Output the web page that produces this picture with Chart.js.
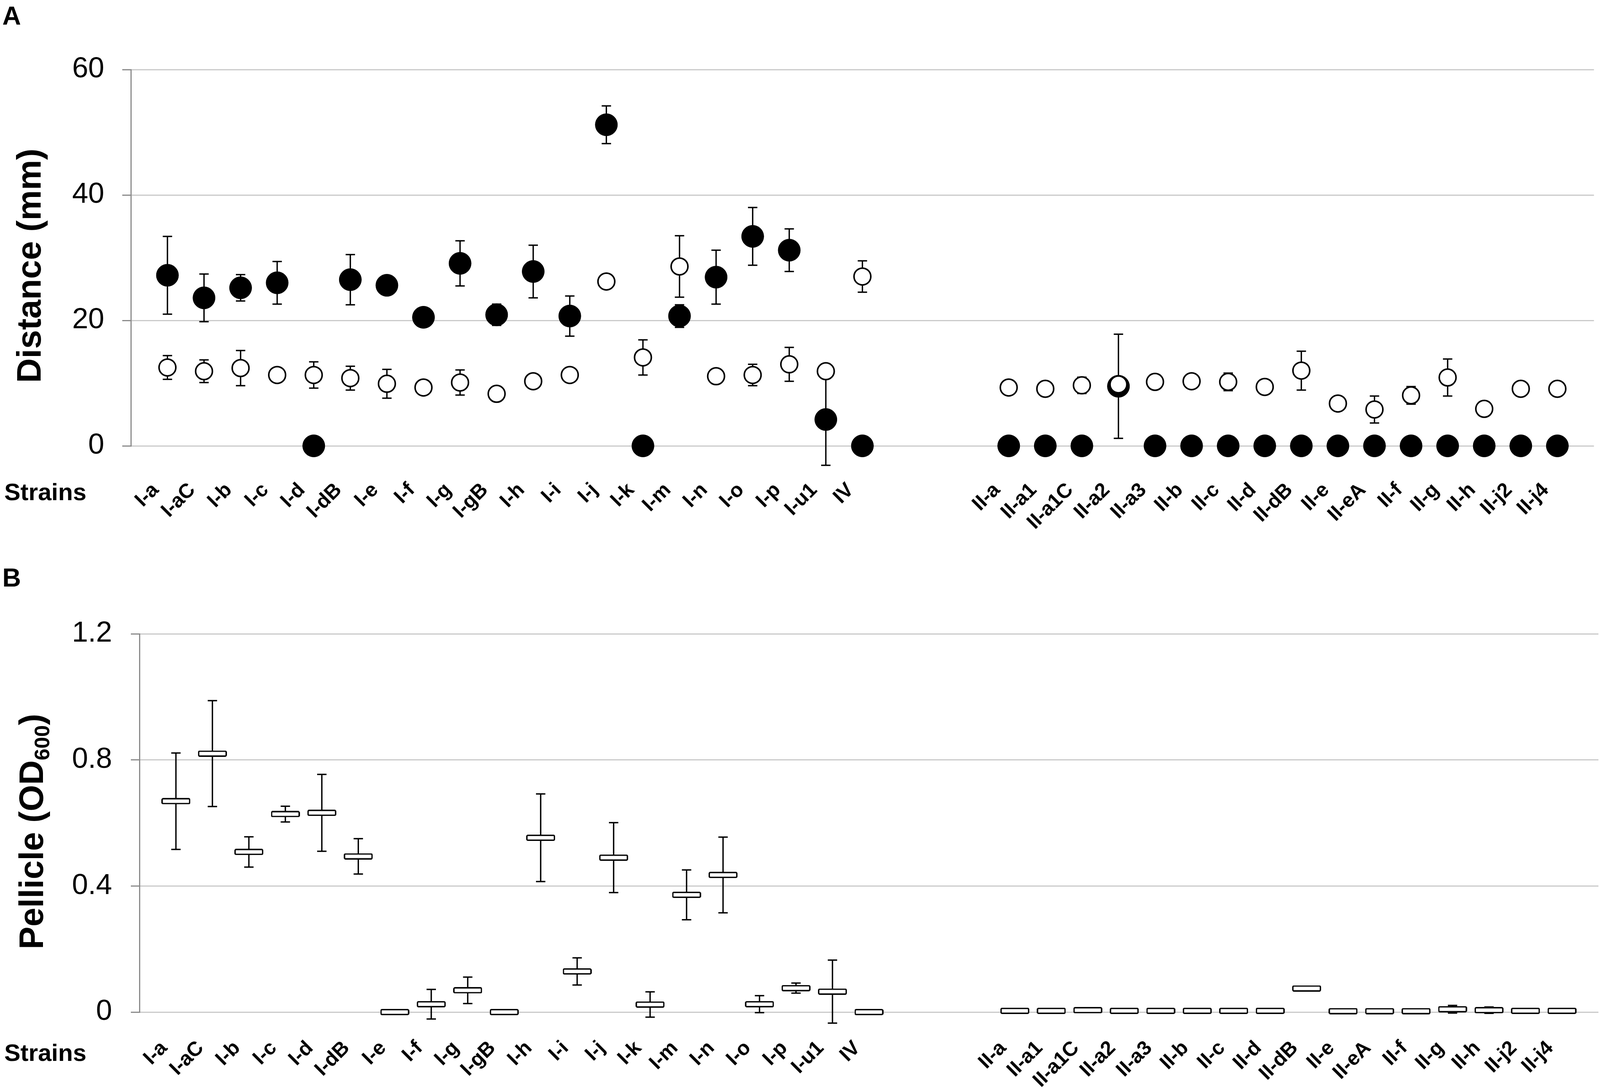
<!DOCTYPE html>
<html><head><meta charset="utf-8">
<script src="https://cdn.jsdelivr.net/npm/chart.js@4.4.1/dist/chart.umd.min.js"></script>
<style>
html,body{margin:0;padding:0;background:#fff;width:4110px;height:2792px;overflow:hidden}
canvas{position:absolute;left:0}
#ca{top:0}
#cb{top:1400px}
</style></head><body>
<canvas id="ca" width="4110" height="1400"></canvas>
<canvas id="cb" width="4110" height="1392"></canvas>
<script>
// ---------- data ----------
const strainsI = ['I-a','I-aC','I-b','I-c','I-d','I-dB','I-e','I-f','I-g','I-gB','I-h','I-i','I-j','I-k','I-m','I-n','I-o','I-p','I-u1','IV'];
const strainsII = ['II-a','II-a1','II-a1C','II-a2','II-a3','II-b','II-c','II-d','II-dB','II-e','II-eA','II-f','II-g','II-h','II-j2','II-j4'];
const gapSlots = 3;

// Panel A: distance (mm), filled circles
const distFilledI  = [27.2, 23.6, 25.2, 26.0, 0, 26.5, 25.6, 20.5, 29.1, 20.9, 27.8, 20.7, 51.2, 0, 20.7, 26.9, 33.4, 31.2, 4.2, 0];
const distFilledErrI = [6.2, 3.8, 2.1, 3.4, 0, 4.0, 0, 0, 3.6, 1.7, 4.2, 3.2, 3.0, 0, 1.8, 4.3, 4.6, 3.4, 7.3, 0];
const distFilledII = [0, 0, 0, 9.5, 0, 0, 0, 0, 0, 0, 0, 0, 0, 0, 0, 0];
const distFilledErrII = [0, 0, 0, 8.3, 0, 0, 0, 0, 0, 0, 0, 0, 0, 0, 0, 0];
// Panel A: distance (mm), open circles
const distOpenI  = [12.5, 11.9, 12.4, 11.3, 11.3, 10.8, 9.9, 9.3, 10.1, 8.3, 10.3, 11.3, 26.2, 14.1, 28.6, 11.1, 11.3, 13.0, 11.9, 27.0];
const distOpenErrI = [1.9, 1.8, 2.8, 0, 2.1, 1.9, 2.3, 0, 2.0, 0, 0, 0, 0, 2.8, 4.9, 0, 1.7, 2.7, 0, 2.5];
const distOpenII = [9.3, 9.1, 9.65, 9.8, 10.2, 10.3, 10.2, 9.4, 12.0, 6.75, 5.8, 8.05, 10.9, 5.9, 9.1, 9.1];
const distOpenErrII = [0, 0, 1.3, 0, 0, 0, 1.4, 0, 3.1, 0, 2.15, 1.4, 2.95, 0, 0, 0];

// Panel B: pellicle (OD600)
const pellI = [0.669, 0.820, 0.508, 0.628, 0.632, 0.494, 0.0, 0.025, 0.069, 0.0, 0.553, 0.129, 0.490, 0.024, 0.372, 0.435, 0.025, 0.076, 0.065, 0.0];
const pellErrI = [0.153, 0.168, 0.048, 0.025, 0.122, 0.056, 0, 0.047, 0.042, 0, 0.139, 0.043, 0.111, 0.040, 0.079, 0.120, 0.027, 0.016, 0.10, 0];
const pellII = [0.004, 0.004, 0.006, 0.004, 0.004, 0.004, 0.004, 0.004, 0.075, 0.003, 0.003, 0.003, 0.009, 0.006, 0.004, 0.004];
const pellErrII = [0, 0, 0, 0, 0, 0, 0, 0, 0.004, 0, 0, 0, 0.012, 0.010, 0, 0];

const distanceTicks = {min: 0, max: 60, step: 20};
const pellicleTicks = {min: 0, max: 1.2, step: 0.4};

// ---------- helpers ----------
function spread(a, b, fill) {
  return [fill].concat(a, Array(gapSlots).fill(fill), b, [fill]);
}
const labels = spread(strainsI, strainsII, '');
const FONT = "'Liberation Sans', Arial, Helvetica, sans-serif";

const errorBars = {
  id: 'errorBars',
  beforeDatasetsDraw(chart) {
    const ctx = chart.ctx, ys = chart.scales.y;
    chart.data.datasets.forEach((ds, di) => {
      const meta = chart.getDatasetMeta(di);
      (ds.errors || []).forEach((e, i) => {
        const v = ds.data[i];
        if (v == null || !e) return;
        const px = meta.data[i].x;
        const t = ys.getPixelForValue(v + e), b = ys.getPixelForValue(v - e);
        ctx.save();
        ctx.strokeStyle = '#000';
        ctx.lineWidth = 3.5;
        ctx.beginPath();
        ctx.moveTo(px, t); ctx.lineTo(px, b);
        ctx.moveTo(px - 12, t); ctx.lineTo(px + 12, t);
        ctx.moveTo(px - 12, b); ctx.lineTo(px + 12, b);
        ctx.stroke();
        ctx.restore();
      });
    });
  }
};

function textPlugin(letter, titleParts, titleCenterY, titleBaseX, strainsY) {
  return {
    id: 'panelText',
    afterDraw(chart) {
      const ctx = chart.ctx;
      ctx.save();
      ctx.fillStyle = '#000';
      ctx.font = `bold 66px ${FONT}`;
      ctx.textBaseline = 'top';
      ctx.textAlign = 'left';
      ctx.fillText(letter, 6, letter === 'A' ? 12 : 50);
      ctx.font = `bold 62px ${FONT}`;
      ctx.textBaseline = 'middle';
      ctx.fillText('Strains', 11, strainsY);
      ctx.translate(titleBaseX, titleCenterY);
      ctx.rotate(-Math.PI / 2);
      ctx.textBaseline = 'alphabetic';
      let total = 0;
      const widths = titleParts.map(p => {
        ctx.font = `bold ${p.size}px ${FONT}`;
        const w = ctx.measureText(p.text).width;
        total += w;
        return w;
      });
      let x = -total / 2;
      titleParts.forEach((p, i) => {
        ctx.font = `bold ${p.size}px ${FONT}`;
        ctx.fillText(p.text, x, p.dy || 0);
        x += widths[i];
      });
      ctx.restore();
    }
  };
}

function yScale(lim, width, pad) {
  return {
    min: lim.min, max: lim.max,
    ticks: {stepSize: lim.step, padding: pad, color: '#000', font: {family: FONT, size: 74}},
    grid: {color: '#cacaca', lineWidth: 3, tickLength: 22, tickColor: '#8a8a8a', tickWidth: 3},
    border: {color: '#8a8a8a', width: 3},
    afterFit(s) { s.width = width; s.paddingTop = 0; s.paddingBottom = 0; }
  };
}
function xScale(height, pad) {
  return {
    type: 'category', offset: false,
    grid: {display: false, drawTicks: false},
    border: {display: false},
    ticks: {autoSkip: false, maxRotation: 45, minRotation: 45, padding: pad, labelOffset: -30, color: '#000',
            font: {family: FONT, size: 52, weight: 'bold'}},
    afterFit(s) { s.height = height; s.paddingLeft = 0; s.paddingRight = 0; }
  };
}

// ---------- Panel A ----------
new Chart(document.getElementById('ca'), {
  type: 'line',
  data: {
    labels: labels,
    datasets: [
      {label: 'open', data: spread(distOpenI, distOpenII, null), errors: spread(distOpenErrI, distOpenErrII, null),
       showLine: false, clip: false, order: 0, pointStyle: 'circle', pointRadius: 21.5, pointBorderWidth: 4,
       pointBackgroundColor: '#fff', pointBorderColor: '#000'},
      {label: 'filled', data: spread(distFilledI, distFilledII, null), errors: spread(distFilledErrI, distFilledErrII, null),
       showLine: false, clip: false, order: 1, pointStyle: 'circle', pointRadius: 28.5, pointBorderWidth: 1,
       pointBackgroundColor: '#000', pointBorderColor: '#000'}
    ]
  },
  options: {
    responsive: false, animation: false, devicePixelRatio: 1,
    layout: {padding: {top: 178, right: 13, left: 0, bottom: 0}},
    plugins: {legend: {display: false}, tooltip: {enabled: false}},
    scales: {x: xScale(259, 83), y: yScale(distanceTicks, 335, 46)}
  },
  plugins: [errorBars, textPlugin('A', [{text: 'Distance (mm)', size: 87}], 680, 104, 1263)]
});

// ---------- Panel B ----------
function boxMarker() {
  const c = document.createElement('canvas');
  c.width = 74; c.height = 16;
  const g = c.getContext('2d');
  g.fillStyle = '#fff'; g.strokeStyle = '#000'; g.lineWidth = 3.5;
  g.beginPath();
  if (g.roundRect) g.roundRect(1.75, 1.75, 70.5, 12.5, 2.5); else g.rect(1.75, 1.75, 70.5, 12.5);
  g.fill(); g.stroke();
  return c;
}
new Chart(document.getElementById('cb'), {
  type: 'line',
  data: {
    labels: labels,
    datasets: [
      {label: 'pellicle', data: spread(pellI, pellII, null), errors: spread(pellErrI, pellErrII, null),
       showLine: false, clip: false, pointStyle: boxMarker(), pointRadius: 10}
    ]
  },
  options: {
    responsive: false, animation: false, devicePixelRatio: 1,
    layout: {padding: {top: 222, right: 18, left: 0, bottom: 0}},
    plugins: {legend: {display: false}, tooltip: {enabled: false}},
    scales: {x: xScale(202, 62), y: yScale(pellicleTicks, 357, 48)}
  },
  plugins: [errorBars, textPlugin('B', [
    {text: 'Pellicle (OD', size: 87},
    {text: '600', size: 54, dy: 16},
    {text: ')', size: 87}
  ], 728, 110, 1298)]
});
</script>
</body></html>
